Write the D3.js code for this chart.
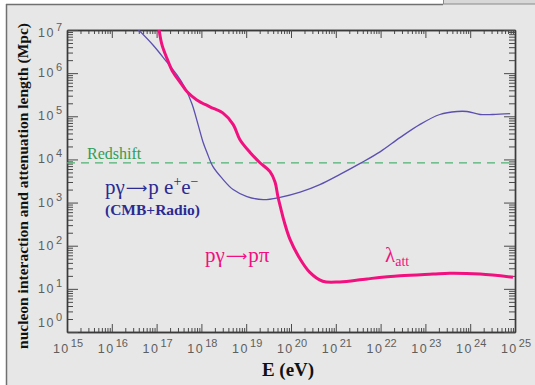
<!DOCTYPE html>
<html>
<head>
<meta charset="utf-8">
<script src="https://cdn.jsdelivr.net/npm/d3@7"></script>
<style>
  html, body { margin: 0; padding: 0; background: #fff; }
  svg { display: block; }
</style>
</head>
<body>
<svg id="chart" width="535" height="385"></svg>
<script>
// Energy axis decades (exponents of 10 eV) and length axis decades (exponents of 10 Mpc)
const xDecades = [15, 16, 17, 18, 19, 20, 21, 22, 23, 24, 25];
const yDecades = [0, 1, 2, 3, 4, 5, 6, 7];

// Pair production p γ → p e+ e− (CMB + radio): energy (eV), interaction length (Mpc)
const pairE = [3.8e16, 8.3e16, 1.7e17, 2.85e17, 4.3e17, 6.2e17, 8.4e17, 1.09e18, 1.33e18, 1.8e18,
               3.0e18, 5.1e18, 1.04e19, 2.4e19, 5.7e19, 1.6e20, 4.4e20, 1.24e21, 3.5e21, 9.7e21,
               2.7e22, 7.6e22, 2.1e23, 5.1e23, 8.5e23, 1.66e24, 3.2e24, 7.8e24];
const pairL = [1.05e7, 4.5e6, 1.8e6, 9.1e5, 4.6e5, 1.9e5, 6.5e4, 2.5e4, 1.45e4, 6.9e3,
               3.5e3, 2.0e3, 1.38e3, 1.17e3, 1.32e3, 1.74e3, 2.6e3, 4.5e3, 8.1e3, 1.5e4,
               3.2e4, 6.5e4, 1.1e5, 1.29e5, 1.29e5, 1.1e5, 1.1e5, 1.15e5];

// Total attenuation length λ_att: energy (eV), length (Mpc)
const attE = [1.13e17, 1.32e17, 1.7e17, 2.3e17, 3.3e17, 4.8e17, 7.9e17, 1.55e18, 3.0e18, 5.1e18,
              7.2e18, 1.22e19, 2.0e19, 3.4e19, 4.4e19, 5.1e19, 6.0e19, 7.0e19, 9.5e19, 1.6e20,
              2.6e20, 5.1e20, 1.23e21, 5.0e21, 2.7e22, 1.48e23, 3.5e23, 1.66e24, 9.0e24];
const attL = [1.05e7, 4.5e6, 2.2e6, 1.07e6, 6.3e5, 3.7e5, 2.4e5, 1.66e5, 1.2e5, 6.5e4,
              2.9e4, 1.45e4, 8.5e3, 5.2e3, 3.0e3, 1.38e3, 6.9e2, 3.7e2, 1.4e2, 49,
              24.5, 15, 14.5, 17, 20, 22, 23, 22, 18.6];

// Redshift (expansion) loss length, Mpc
const redshiftL = [8.3e3];

const SERIF = '"Liberation Serif", "Times New Roman", Times, serif';
const SANS = '"Liberation Sans", Arial, Helvetica, sans-serif';
const ARROW_FONT = '"DejaVu Sans", sans-serif';

const svg = d3.select("#chart");
const W = 535, H = 385;
const plot = { left: 67, right: 515, top: 30, bottom: 332 };

// page frame
svg.append("rect").attr("x", 6).attr("y", 4).attr("width", W - 6).attr("height", H - 4).attr("fill", "#e7e7e7");
svg.append("line").attr("x1", 6).attr("x2", 443).attr("y1", 4.5).attr("y2", 4.5).attr("stroke", "#707070").attr("stroke-width", 1.5);
svg.append("line").attr("x1", 6.5).attr("x2", 6.5).attr("y1", 4).attr("y2", H).attr("stroke", "#707070").attr("stroke-width", 1.5);
svg.append("rect").attr("x", 443.5).attr("y", -1).attr("width", 95).attr("height", 5).attr("fill", "#d8d8d8").attr("stroke", "#8a8a8a");

const x = d3.scaleLog().domain([1e15, 1e25]).range([plot.left, plot.right]);
const y = d3.scaleLog().domain([1, 1e7]).range([plot.bottom, plot.top]);

const xMajor = xDecades.map(d => Math.pow(10, d));
const yMajor = yDecades.map(d => Math.pow(10, d));
const minorOf = decs => {
  const out = [];
  decs.slice(0, -1).forEach(d => { for (let k = 2; k <= 9; k++) out.push(k * Math.pow(10, d)); });
  return out;
};
const xMinor = minorOf(xDecades);
const yMinor = minorOf(yDecades);

function styleAxis(g) {
  g.select(".domain").attr("stroke", "#3a3a3a").attr("stroke-width", 1.4);
  g.selectAll(".tick line").attr("stroke", "#4a4a4a").attr("stroke-width", 1);
  g.selectAll(".tick text").remove();
}

const axes = svg.append("g");
// bottom & top: ticks point into the plot
axes.append("g").attr("transform", `translate(0,${plot.bottom})`)
  .call(d3.axisBottom(x).tickValues(xMinor).tickSize(-4).tickSizeOuter(0)).call(styleAxis);
axes.append("g").attr("transform", `translate(0,${plot.bottom})`)
  .call(d3.axisBottom(x).tickValues(xMajor).tickSize(-8).tickSizeOuter(0)).call(styleAxis);
axes.append("g").attr("transform", `translate(0,${plot.top})`)
  .call(d3.axisTop(x).tickValues(xMinor).tickSize(-4).tickSizeOuter(0)).call(styleAxis);
axes.append("g").attr("transform", `translate(0,${plot.top})`)
  .call(d3.axisTop(x).tickValues(xMajor).tickSize(-8).tickSizeOuter(0)).call(styleAxis);
// left & right
axes.append("g").attr("transform", `translate(${plot.left},0)`)
  .call(d3.axisLeft(y).tickValues(yMinor).tickSize(-6).tickSizeOuter(0)).call(styleAxis);
axes.append("g").attr("transform", `translate(${plot.left},0)`)
  .call(d3.axisLeft(y).tickValues(yMajor).tickSize(-11).tickSizeOuter(0)).call(styleAxis);
axes.append("g").attr("transform", `translate(${plot.right},0)`)
  .call(d3.axisRight(y).tickValues(yMinor).tickSize(-6).tickSizeOuter(0)).call(styleAxis);
axes.append("g").attr("transform", `translate(${plot.right},0)`)
  .call(d3.axisRight(y).tickValues(yMajor).tickSize(-11).tickSizeOuter(0)).call(styleAxis);

// power-of-ten tick labels
function powerLabel(sel, exp) {
  sel.append("tspan").style("font-size", "12.5px").attr("letter-spacing", 1.5).text("10");
  sel.append("tspan").style("font-size", "11px").attr("dx", 1).attr("dy", -6).text(exp);
}
svg.append("g").selectAll("text").data(xDecades).join("text")
  .style("font-family", SANS).attr("fill", "#5e5e5e")
  .attr("x", d => x(Math.pow(10, d)) + 1)
  .attr("y", 353)
  .attr("text-anchor", "middle")
  .each(function (d) { powerLabel(d3.select(this), d); });
svg.append("g").selectAll("text").data(yDecades).join("text")
  .style("font-family", SANS).attr("fill", "#5e5e5e")
  .attr("x", 62)
  .attr("y", d => Math.max(37, Math.min(327, y(Math.pow(10, d)) + 4)))
  .attr("text-anchor", "end")
  .each(function (d) { powerLabel(d3.select(this), d); });

// axis titles
svg.append("text").style("font-family", SERIF)
  .attr("transform", `translate(28,${(15 + 357) / 2}) rotate(-90)`)
  .attr("text-anchor", "middle").style("font-weight", "bold").style("font-size", "15.5px").attr("fill", "#111")
  .text("nucleon interaction and attenuation length (Mpc)");
svg.append("text").style("font-family", SERIF)
  .attr("x", 288).attr("y", 376)
  .attr("text-anchor", "middle").style("font-weight", "bold").style("font-size", "19px").attr("fill", "#111")
  .text("E (eV)");

// curves
svg.append("clipPath").attr("id", "plot-clip").append("rect")
  .attr("x", plot.left).attr("y", plot.top)
  .attr("width", plot.right - plot.left).attr("height", plot.bottom - plot.top);
const curves = svg.append("g").attr("clip-path", "url(#plot-clip)");

curves.append("line")
  .attr("x1", plot.left).attr("x2", plot.right)
  .attr("y1", y(redshiftL[0])).attr("y2", y(redshiftL[0]))
  .attr("stroke", "#4fb374").attr("stroke-width", 1.3).attr("stroke-dasharray", "8,6");

const line = d3.line().x(d => x(d[0])).y(d => y(d[1])).curve(d3.curveCatmullRom.alpha(0.5));
curves.append("path")
  .attr("d", line(d3.zip(pairE, pairL)))
  .attr("fill", "none").attr("stroke", "#5b50b0").attr("stroke-width", 1.3);
curves.append("path")
  .attr("d", line(d3.zip(attE, attL)))
  .attr("fill", "none").attr("stroke", "#f2107f").attr("stroke-width", 3);

// annotations
svg.append("text").style("font-family", SERIF)
  .attr("x", 87).attr("y", 159).style("font-size", "16px").attr("fill", "#2f9e55")
  .text("Redshift");

// reaction label with a long thin arrow
function reaction(sel, lhs, rhs) {
  sel.append("tspan").text(lhs);
  sel.append("tspan").style("font-family", ARROW_FONT).style("font-size", "15px").attr("dx", 1).attr("dy", -1).text("⟶");
  sel.append("tspan").attr("dx", 1).attr("dy", 1).text(rhs);
}

const pair = svg.append("text").style("font-family", SERIF)
  .attr("x", 105).attr("y", 194).style("font-size", "21px").attr("fill", "#2c2a93");
reaction(pair, "pγ", "p e");
pair.append("tspan").style("font-size", "14px").attr("dy", -8).text("+");
pair.append("tspan").attr("dy", 8).text("e");
pair.append("tspan").style("font-size", "14px").attr("dy", -8).text("−");

svg.append("text").style("font-family", SERIF)
  .attr("x", 105).attr("y", 215).style("font-size", "15.5px").style("font-weight", "bold").attr("fill", "#2c2a93")
  .text("(CMB+Radio)");

const pion = svg.append("text").style("font-family", SERIF)
  .attr("x", 205).attr("y", 262).style("font-size", "21px").attr("fill", "#f2107f");
reaction(pion, "pγ", "pπ");

const lam = svg.append("text").style("font-family", SERIF)
  .attr("x", 385).attr("y", 262).style("font-size", "21px").attr("fill", "#f2107f");
lam.append("tspan").text("λ");
lam.append("tspan").style("font-size", "14px").attr("dy", 4).text("att");
</script>
</body>
</html>
